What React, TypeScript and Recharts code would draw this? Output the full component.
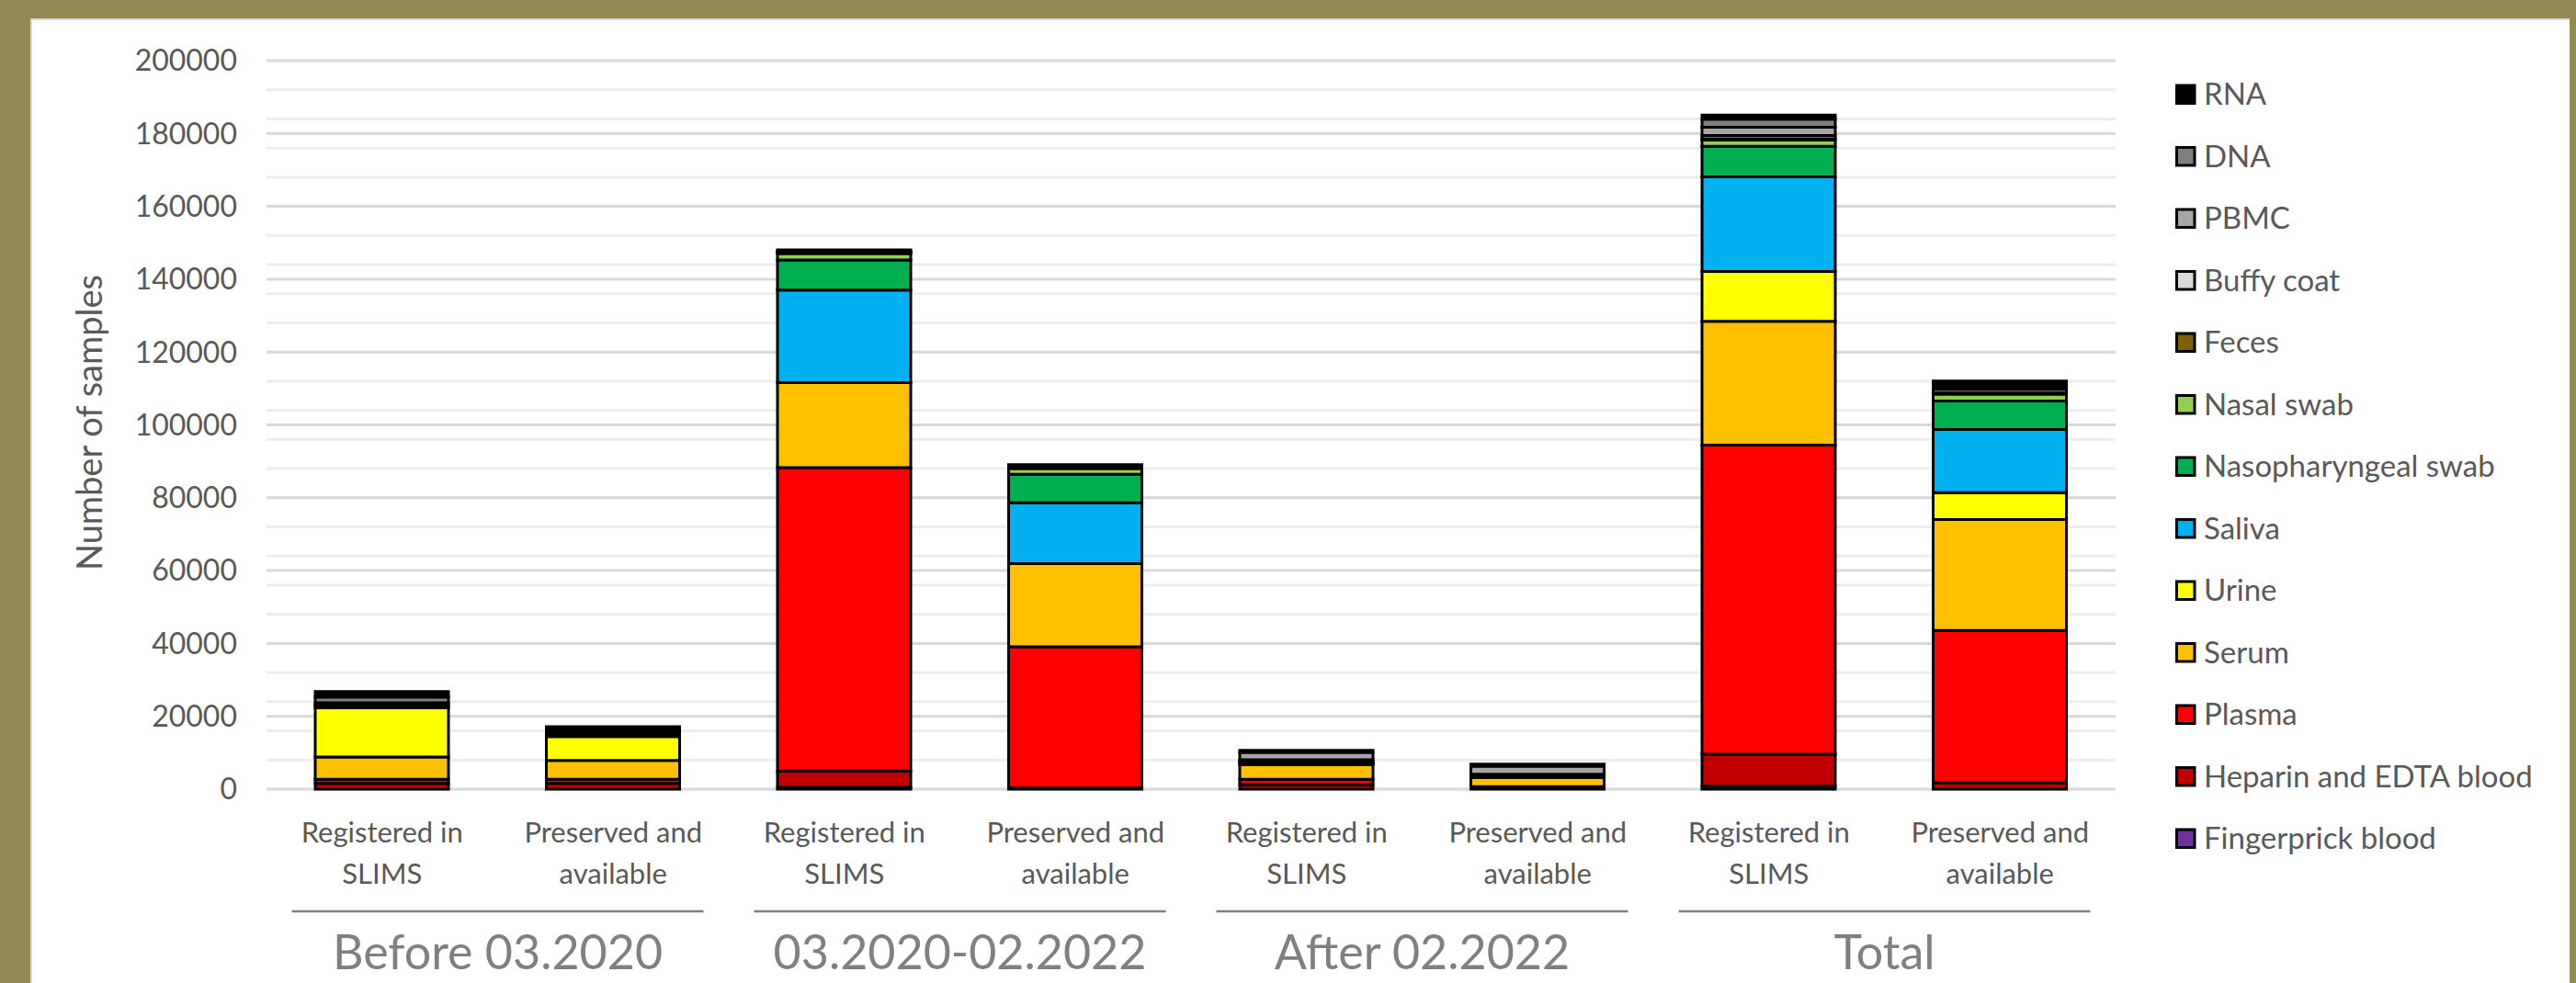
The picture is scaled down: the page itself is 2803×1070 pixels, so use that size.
import React from "react";
import { BarChart, Bar, XAxis, YAxis, CartesianGrid } from "recharts";

const W = 2803;
const H = 1070;
const PLOT_LEFT = 290;
const PLOT_RIGHT = 2302;
const PLOT_TOP = 66;
const PLOT_BOTTOM = 859;
const FONT = "Lato, 'Open Sans', sans-serif";

const periods = ["Before 03.2020", "03.2020-02.2022", "After 02.2022", "Total"];
const kindLabels = [
  ["Registered in", "SLIMS"],
  ["Preserved and", "available"],
];
const yTicks = [0, 20000, 40000, 60000, 80000, 100000, 120000, 140000, 160000, 180000, 200000];

// values per bar, stacked bottom -> top
const fingerprick = [0, 0, 500, 0, 0, 0, 800, 0];
const heparin = [1600, 1600, 4500, 300, 1260, 300, 8800, 1750];
const plasma = [1100, 1100, 83300, 38800, 1440, 370, 84860, 41810];
const serum = [6100, 5200, 23300, 22800, 4030, 2530, 33950, 30450];
const urine = [13600, 6550, 0, 0, 300, 200, 13730, 7360];
const saliva = [0, 0, 25400, 16700, 300, 300, 25960, 17350];
const nasopharyngeal = [0, 0, 8250, 7850, 200, 0, 8360, 7860];
const nasal = [0, 0, 1800, 1550, 0, 0, 1740, 1870];
const feces = [0, 0, 0, 0, 0, 0, 340, 0];
const buffyCoat = [600, 300, 200, 300, 540, 410, 900, 300];
const pbmc = [700, 400, 200, 300, 2000, 2190, 2250, 1000];
const dna = [1600, 0, 200, 200, 0, 0, 2250, 200];
const rna = [1500, 2000, 400, 300, 600, 590, 1130, 2120];

const series = [
  { key: "fingerprick", name: "Fingerprick blood", color: "#7030A0", values: fingerprick },
  { key: "heparin", name: "Heparin and EDTA blood", color: "#C00000", values: heparin },
  { key: "plasma", name: "Plasma", color: "#FF0000", values: plasma },
  { key: "serum", name: "Serum", color: "#FFC000", values: serum },
  { key: "urine", name: "Urine", color: "#FFFF00", values: urine },
  { key: "saliva", name: "Saliva", color: "#00B0F0", values: saliva },
  { key: "naso", name: "Nasopharyngeal swab", color: "#00B050", values: nasopharyngeal },
  { key: "nasal", name: "Nasal swab", color: "#92D050", values: nasal },
  { key: "feces", name: "Feces", color: "#7F6000", values: feces },
  { key: "buffy", name: "Buffy coat", color: "#D9D9D9", values: buffyCoat },
  { key: "pbmc", name: "PBMC", color: "#A6A6A6", values: pbmc },
  { key: "dna", name: "DNA", color: "#7F7F7F", values: dna },
  { key: "rna", name: "RNA", color: "#000000", values: rna },
];

const data = fingerprick.map((_, i) => {
  const row: Record<string, number | string> = { id: `c${i}` };
  series.forEach((s) => (row[s.key] = s.values[i]));
  return row;
});

// light minor grid every 4000
const minorTicks = Array.from({ length: 51 }, (_, i) => i * 4000);
const bandW = (PLOT_RIGHT - PLOT_LEFT) / data.length;

const CategoryTick = (props: any) => {
  const { x, y, payload } = props;
  const i = payload.index;
  const [l1, l2] = kindLabels[i % 2];
  const txt = { textAnchor: "middle" as const, fill: "#595959", fontSize: 31, fontFamily: FONT };
  const gx = x + bandW / 2;
  return (
    <g>
      <text x={x} y={y + 58} {...txt}>{l1}</text>
      <text x={x} y={y + 103} {...txt}>{l2}</text>
      {i % 2 === 0 && (
        <g>
          <line x1={gx - 224} x2={gx + 224} y1={y + 133} y2={y + 133} stroke="#808080" strokeWidth={2.5} />
          <text x={gx} y={y + 196} textAnchor="middle" fill="#808080" fontSize={52} fontFamily={FONT}>
            {periods[i / 2]}
          </text>
        </g>
      )}
    </g>
  );
};

const legendItems = [...series].reverse();

export default function App() {
  return (
    <div style={{ position: "absolute", left: 0, top: 0, width: W, height: H, background: "#938953", overflow: "hidden" }}>
      <div
        style={{
          position: "absolute",
          left: 33,
          top: 20,
          width: 2763,
          height: H - 20,
          background: "#fff",
          boxShadow: "inset 2px 2px 0 #d9d9d9",
        }}
      />
      <div style={{ position: "absolute", left: 0, top: 0 }}>
        <BarChart
          width={W}
          height={H}
          data={data}
          margin={{ top: PLOT_TOP, right: W - PLOT_RIGHT, bottom: 0, left: 0 }}
          barSize={145}
        >
          <CartesianGrid vertical={false} horizontalValues={minorTicks} stroke="#EDEDED" strokeWidth={3} />
          <CartesianGrid vertical={false} stroke="#D9D9D9" strokeWidth={3} />
          <XAxis
            dataKey="id"
            height={H - PLOT_BOTTOM}
            axisLine={false}
            tickLine={false}
            tickSize={0}
            tickMargin={0}
            interval={0}
            tick={<CategoryTick />}
          />
          <YAxis
            width={PLOT_LEFT}
            domain={[0, 200000]}
            ticks={yTicks}
            axisLine={false}
            tickLine={false}
            tickSize={0}
            tickMargin={32}
            tick={{ fill: "#595959", fontSize: 32, fontFamily: FONT }}
            label={{
              content: () => (
                <text
                  x={96}
                  y={460}
                  transform="rotate(-90 96 460)"
                  textAnchor="middle"
                  dominantBaseline="central"
                  fill="#595959"
                  fontSize={38}
                  fontFamily={FONT}
                >
                  Number of samples
                </text>
              ),
            }}
          />
          {series.map((s) => (
            <Bar
              key={s.key}
              dataKey={s.key}
              name={s.name}
              stackId="a"
              fill={s.color}
              stroke="#000"
              strokeWidth={3}
              isAnimationActive={false}
            />
          ))}
        </BarChart>
      </div>
      <svg style={{ position: "absolute", left: 0, top: 0 }} width={W} height={H}>
        {legendItems.map((s, i) => (
          <g key={s.key}>
            <rect x={2368.5} y={93 + i * 67.5} width={19.5} height={19.5} fill={s.color} stroke="#000" strokeWidth={3} />
            <text x={2398} y={114 + i * 67.5} fill="#595959" fontSize={33} fontFamily={FONT}>
              {s.name}
            </text>
          </g>
        ))}
      </svg>
    </div>
  );
}
